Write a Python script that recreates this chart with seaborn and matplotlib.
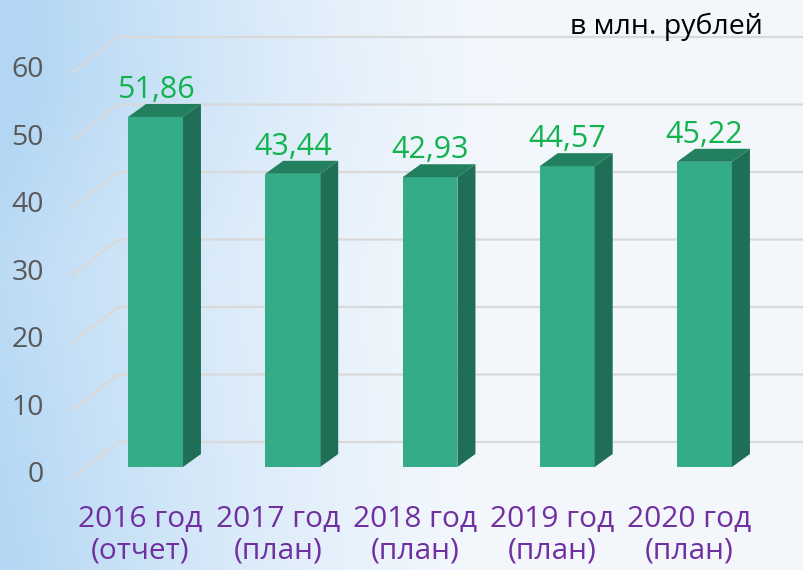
import numpy as np
import pandas as pd
import matplotlib
matplotlib.use("Agg")
import matplotlib.pyplot as plt
from matplotlib.patches import Polygon
import seaborn as sns

# Data
categories = ["2016 год\n(отчет)", "2017 год\n(план)", "2018 год\n(план)",
              "2019 год\n(план)", "2020 год\n(план)"]
values = [51.86, 43.44, 42.93, 44.57, 45.22]
value_labels = ["51,86", "43,44", "42,93", "44,57", "45,22"]
y_ticks = [0, 10, 20, 30, 40, 50, 60]
unit_text = "в млн. рублей"

FRONT = "#33AC87"
SIDE = "#1F6F56"
TOP = "#23805F"
GRID = "#D9D9D9"
VALUE_COLOR = "#12B24E"
CAT_COLOR = "#7030A0"
TICK_COLOR = "#595959"

sns.set_theme(style="white")
plt.rcParams["font.family"] = ["Open Sans", "DejaVu Sans"]

fig = plt.figure(figsize=(8.04, 5.70), dpi=100)
ax = fig.add_axes([0, 0, 1, 1])

df = pd.DataFrame({"cat": categories, "val": values})
sns.barplot(data=df, x="cat", y="val", color=FRONT, width=0.4,
            saturation=1, ax=ax, zorder=3, linewidth=0)

XMIN, XMAX = -1.133, 4.725
YMIN, YMAX = -15.26, 69.19
ax.set_xlim(XMIN, XMAX)
ax.set_ylim(YMIN, YMAX)
ax.set_axis_off()

# Soft blue background fading to white on the right
h, w = 300, 400
xx = np.linspace(0, 1, w)[None, :]
yy = np.linspace(0, 1, h)[:, None]
blue = np.array([0.70, 0.84, 0.955])
white = np.array([0.955, 0.972, 0.992])
wgt = np.clip(1 - xx / 0.62, 0, 1) ** 1.4
wgt = wgt * (0.85 + 0.15 * np.abs(yy - 0.5) * 2)
wgt = wgt + 0.12 * np.clip(1 - np.abs(yy - 0.15) / 0.3, 0, 1) * np.clip(1 - xx / 0.8, 0, 1)
wgt = np.clip(wgt, 0, 1)
img = white[None, None, :] * (1 - wgt[..., None]) + blue[None, None, :] * wgt[..., None]
ax.imshow(img, extent=[XMIN, XMAX, YMIN, YMAX], aspect="auto", zorder=0,
          interpolation="bicubic")

# Data-unit size of one pixel
inv = ax.transData.inverted()
p0 = inv.transform((0, 0))
px_x, px_y = inv.transform((1, 1)) - p0

# Perspective gridlines: short diagonal at the left, then a flat back line
for v in y_ticks:
    fx, fy = XMIN + 72 * px_x, v - 11 * px_y
    bx, by = XMIN + 118 * px_x, v + 25 * px_y
    ax.plot([fx, bx, XMAX], [fy, by, by], color=GRID, lw=1.6, zorder=1,
            solid_capstyle="butt")
    ax.text(XMIN + 44 * px_x, v - 8 * px_y, str(v), ha="right", va="center",
            fontsize=20.5, color=TICK_COLOR, zorder=2)

# 3D side and top faces for each bar
dx, dy = 18 * px_x, 13 * px_y
for patch, lab in zip(ax.patches, value_labels):
    x0, y0 = patch.get_x(), patch.get_y()
    bw, bh = patch.get_width(), patch.get_height()
    x1, y1 = x0 + bw, y0 + bh
    side = Polygon([(x1, y0), (x1 + dx, y0 + dy), (x1 + dx, y1 + dy), (x1, y1)],
                   closed=True, facecolor=SIDE, edgecolor="none", zorder=3)
    top = Polygon([(x0, y1), (x0 + dx, y1 + dy), (x1 + dx, y1 + dy), (x1, y1)],
                  closed=True, facecolor=TOP, edgecolor="none", zorder=3)
    ax.add_patch(side)
    ax.add_patch(top)
    ax.annotate(lab, xy=(x0 + bw / 2, y1), xytext=(0, 13.5),
                textcoords="offset points", ha="center", va="baseline",
                fontsize=22, color=VALUE_COLOR, zorder=4)

# Category labels under the bars
for i, cat in enumerate(categories):
    ax.text(i - 15 * px_x, -68 * px_y, cat, ha="center", va="center",
            fontsize=21.5, color=CAT_COLOR, linespacing=1.1, zorder=4)

fig.text(763 / 804, 1 - 34 / 570, unit_text, ha="right", va="baseline",
         fontsize=20.5, color="black")

fig.savefig("out.png", dpi=100)
